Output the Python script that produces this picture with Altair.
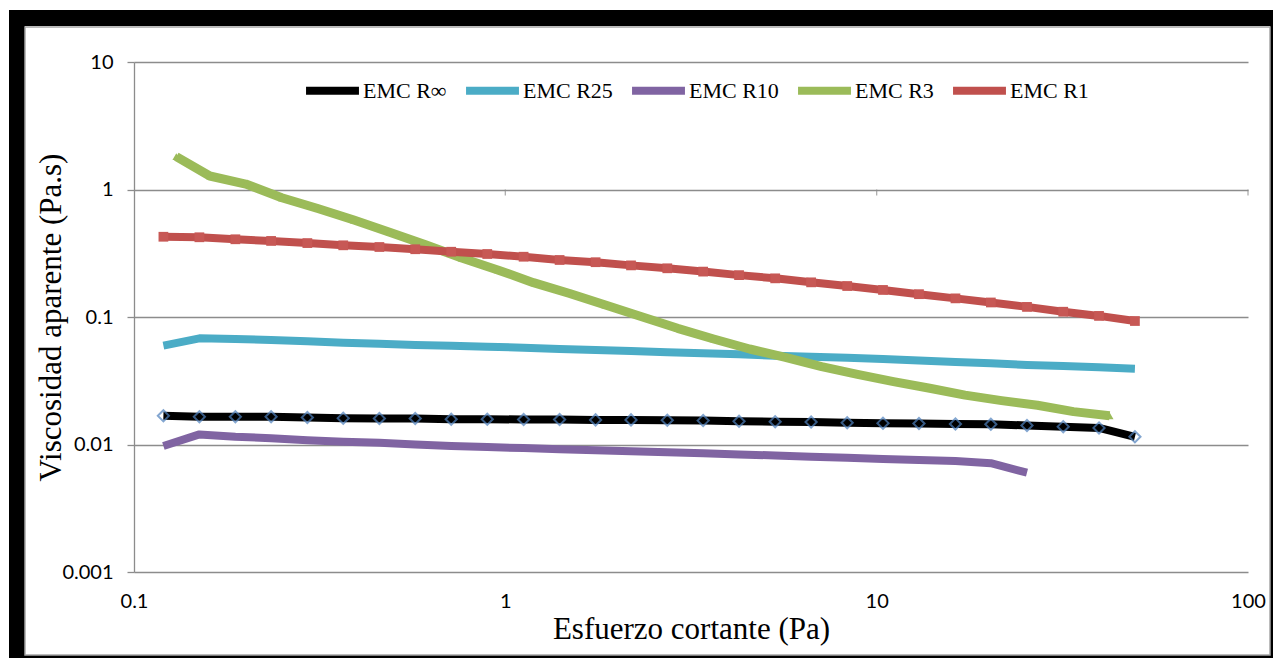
import altair as alt
import pandas as pd

series = ["EMC R∞", "EMC R25", "EMC R10", "EMC R3", "EMC R1"]
colors = ["#000000", "#4bacc6", "#8064a2", "#9bbb59", "#c0504d"]

x_main = [0.12, 0.15, 0.1875, 0.234, 0.293, 0.366, 0.458, 0.572, 0.715, 0.894,
          1.12, 1.40, 1.75, 2.18, 2.73, 3.41, 4.26, 5.33, 6.66, 8.33,
          10.4, 13.0, 16.3, 20.3, 25.4, 31.8, 39.7, 49.6]
x_r3 = [0.13, 0.16, 0.2, 0.25, 0.3125, 0.391, 0.488, 0.610, 0.763, 0.954,
        1.19, 1.49, 1.86, 2.33, 2.91, 3.64, 4.55, 5.68, 7.11, 8.88,
        11.1, 13.9, 17.3, 21.7, 27.1, 33.9, 42.4]

y_rinf = [0.0168, 0.0165, 0.0165, 0.0165, 0.0163, 0.0161, 0.0160, 0.0160, 0.0158, 0.0158,
          0.0157, 0.0157, 0.0156, 0.0156, 0.0155, 0.0154, 0.0152, 0.0151, 0.0150, 0.0148,
          0.0147, 0.0146, 0.0145, 0.0144, 0.0141, 0.0138, 0.0135, 0.0115]
y_r25 = [0.0596, 0.0680, 0.0672, 0.0660, 0.0645, 0.0629, 0.0618, 0.0603, 0.0596, 0.0585,
         0.0574, 0.0561, 0.0551, 0.0541, 0.0529, 0.0519, 0.0510, 0.0496, 0.0488, 0.0480,
         0.0469, 0.0456, 0.0444, 0.0433, 0.0421, 0.0413, 0.0403, 0.0393]
y_r10 = [0.00973, 0.0120, 0.0115, 0.0112, 0.0108, 0.0105, 0.0103, 0.0100, 0.00975, 0.00955,
         0.00937, 0.00918, 0.00902, 0.00885, 0.00869, 0.00852, 0.00835, 0.00820, 0.00802, 0.00787,
         0.00769, 0.00755, 0.00742, 0.00713, 0.00601]
y_r3 = [1.81, 1.276, 1.104, 0.861, 0.710, 0.576, 0.463, 0.368, 0.290, 0.234,
        0.186, 0.153, 0.124, 0.1005, 0.0815, 0.0672, 0.0561, 0.0483, 0.0408, 0.0355,
        0.0311, 0.0276, 0.0244, 0.0221, 0.0203, 0.0181, 0.0168]
y_r1 = [0.426, 0.422, 0.407, 0.395, 0.380, 0.365, 0.354, 0.340, 0.325, 0.312,
        0.297, 0.280, 0.269, 0.254, 0.241, 0.227, 0.213, 0.201, 0.187, 0.175,
        0.163, 0.151, 0.140, 0.130, 0.120, 0.110, 0.102, 0.093]

x_ticks = [0.1, 1, 10, 100]
y_ticks = [0.001, 0.01, 0.1, 1, 10]
axis_cross_ticks = [1, 10, 100]

frames = []
for name, xs, ys in [
    (series[0], x_main, y_rinf),
    (series[1], x_main, y_r25),
    (series[2], x_main[:len(y_r10)], y_r10),
    (series[3], x_r3, y_r3),
    (series[4], x_main, y_r1),
]:
    frames.append(pd.DataFrame({"x": xs, "y": ys, "serie": name}))
df = pd.concat(frames, ignore_index=True)

GRAY = "#8c8c8c"

X = alt.X(
    "x:Q",
    scale=alt.Scale(type="log", domain=[0.1, 100]),
    axis=alt.Axis(
        values=x_ticks, format="~g", title="Esfuerzo cortante (Pa)",
        grid=False, domain=False, ticks=False, labelPadding=19, labelFlush=False,
        labelFont="Lato", labelFontSize=20, labelColor="black",
        titleFont="Liberation Serif", titleFontSize=31, titleFontWeight="normal",
        titleColor="black", titleBaseline="alphabetic", titleY=66,
    ),
)
Y = alt.Y(
    "y:Q",
    scale=alt.Scale(type="log", domain=[0.001, 10]),
    axis=alt.Axis(
        values=y_ticks, format="~g", title="Viscosidad aparente (Pa.s)",
        grid=True, gridColor=GRAY, gridWidth=1.3, domain=True, domainColor=GRAY,
        domainWidth=1.3, ticks=True, tickColor=GRAY, tickSize=7, tickWidth=1.3,
        labelPadding=14, labelFlush=False, labelFont="Lato", labelFontSize=20,
        labelColor="black",
        titleFont="Liberation Serif", titleFontSize=31, titleFontWeight="normal",
        titleColor="black", titleBaseline="alphabetic", titleX=-74,
    ),
)
C = alt.Color(
    "serie:N",
    scale=alt.Scale(domain=series, range=colors),
    legend=alt.Legend(
        orient="none", legendX=168, legendY=-2, direction="horizontal", title=None,
        symbolType="stroke", symbolSize=2800, symbolStrokeWidth=8,
        labelFont="Liberation Serif", labelFontSize=22, labelColor="black",
        columnPadding=3, labelOffset=0, padding=0,
    ),
)

one = alt.Data(values=[{}])
frame = alt.Chart(one).mark_rect(filled=False, stroke="black", strokeWidth=16).encode(
    x=alt.value(-117), x2=alt.value(1144), y=alt.value(-44), y2=alt.value(601)
)
inner = alt.Chart(one).mark_rect(filled=False, stroke="#a6a6a6", strokeWidth=1.5).encode(
    x=alt.value(-109), x2=alt.value(1136), y=alt.value(-35), y2=alt.value(593)
)

ticks_df = pd.DataFrame({"x": axis_cross_ticks, "y": [1] * len(axis_cross_ticks)})
cross_ticks = alt.Chart(ticks_df).mark_tick(
    orient="vertical", size=6, thickness=1.3, color=GRAY, yOffset=3
).encode(x=X, y=Y)

layers = [frame, inner, cross_ticks]
for s in series:
    sub = df[df.serie == s]
    width = 9 if s == "EMC R3" else 8
    layers.append(
        alt.Chart(sub).mark_line(strokeWidth=width, strokeJoin="round").encode(x=X, y=Y, color=C)
    )
    if s == "EMC R∞":
        layers.append(alt.Chart(sub).mark_point(
            shape="diamond", filled=False, size=125, stroke="#4f81bd", strokeWidth=2
        ).encode(x=X, y=Y))
    elif s == "EMC R3":
        layers.append(alt.Chart(sub).mark_point(
            shape="triangle-up", filled=True, size=60, color="#9bbb59", opacity=1
        ).encode(x=X, y=Y))
    elif s == "EMC R1":
        layers.append(alt.Chart(sub).mark_point(
            shape="square", filled=True, size=95, color="#c75855", opacity=1
        ).encode(x=X, y=Y))

chart = alt.layer(*layers).properties(
    width=1114, height=510,
    autosize=alt.AutoSizeParams(type="none"),
    padding={"left": 126, "top": 54, "right": 25, "bottom": 86},
    background="white",
).configure_view(stroke=None)

chart.save("out.html", embed_options={"renderer": "svg", "actions": False})
